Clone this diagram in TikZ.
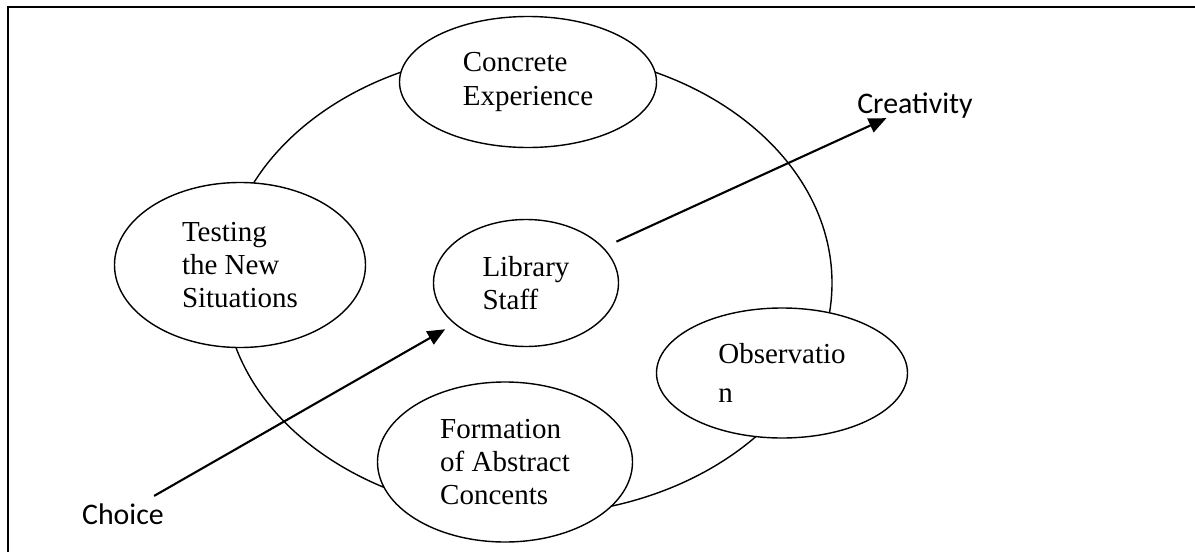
\documentclass[tikz,border=0pt]{standalone}
\usepackage{fontspec}
\setmainfont{Liberation Serif}
\newfontfamily\calibri{Carlito}
\usetikzlibrary{shapes.geometric,arrows.meta}

\begin{document}
\begin{tikzpicture}[x=0.2mm, y=-0.2mm,
    bubble/.style={ellipse, draw, line width=0.8pt, fill=white, inner sep=0pt, align=left,
        font=\fontsize{16.5}{19}\selectfont},
    word/.style={inner sep=0pt, font=\calibri\fontsize{17}{20}\selectfont},
    arr/.style={line width=1.2pt, -{Triangle[length=10pt,width=8.5pt]}, shorten <=8pt}]
    \useasboundingbox (0,0) rectangle (1195,552);

    % frame
    \draw [line width=0.9pt] (8,7) rectangle (1220,580);

    % cycle
    \draw [line width=0.8pt] (528,283) ellipse [x radius=304, y radius=232];

    % stages
    \node [bubble, minimum width=51.4mm, minimum height=26.2mm] (concrete) at (528,82) {Concrete\\Experience};
    \node [bubble, minimum width=50.2mm, minimum height=33mm] (testing) at (240,265) {Testing\\the New\\Situations};
    \node [bubble, minimum width=37mm, minimum height=25.4mm] (staff) at (526,283) {Library\\Staff};
    \node [bubble, minimum width=50.2mm, minimum height=26mm,
        font=\fontsize{16.5}{22.2}\selectfont] (observ) at (782,373) {Observatio\\n};
    \node [bubble, minimum width=51mm, minimum height=32mm] (formation) at (505,462) {Formation\\of Abstract\\Concents};

    % outside words
    \node [word, anchor=base] (choice) at (123,524) {Choice};
    \node [word, anchor=base] (creat) at (915,113) {Creativity};

    % arrows
    \draw [arr, shorten >=6pt] (choice) -- (staff);
    \draw [arr] (staff) -- (creat);
\end{tikzpicture}
\end{document}
